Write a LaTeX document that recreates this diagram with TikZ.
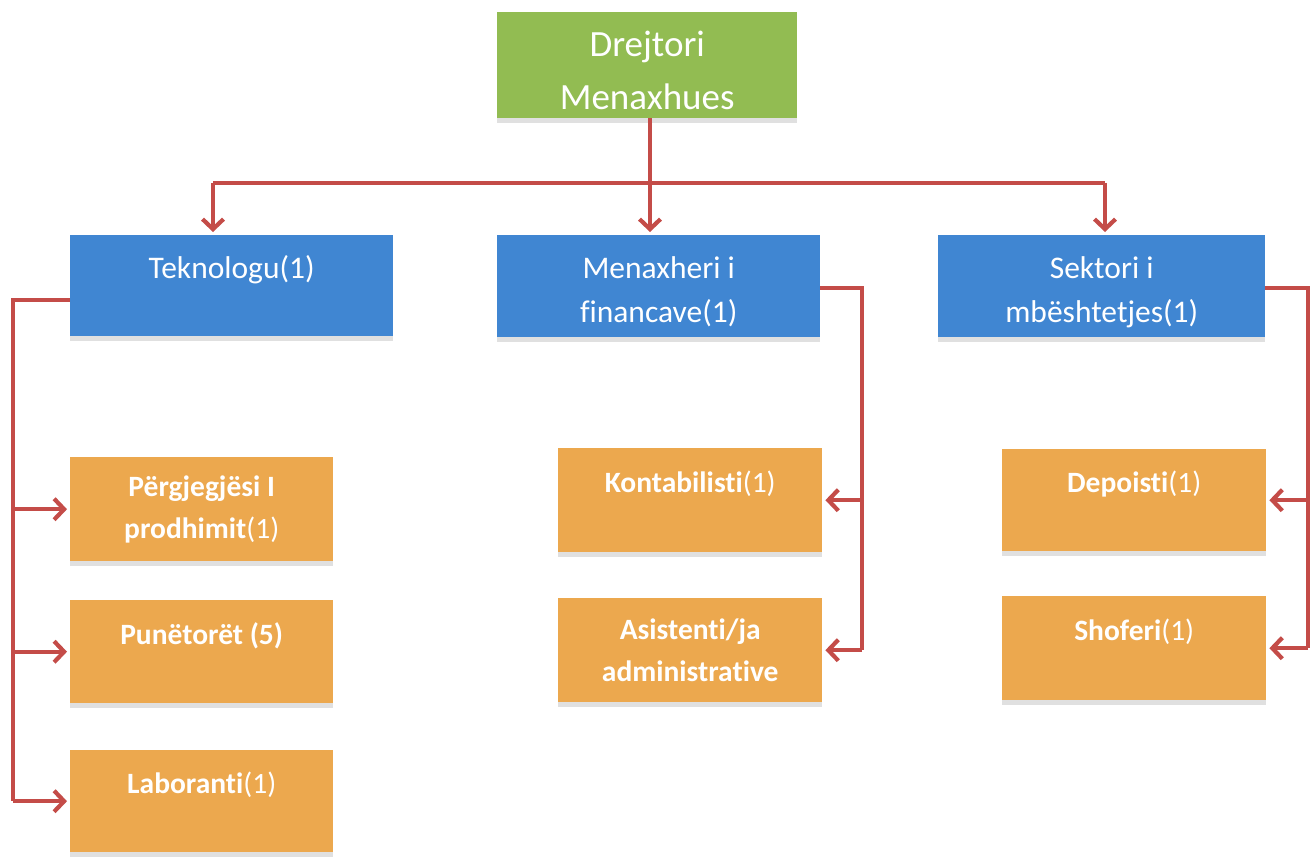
\documentclass[tikz,border=0pt]{standalone}
\usepackage{fontspec}
\setmainfont[Ligatures=NoCommon]{Carlito}
\usetikzlibrary{shadows}
\usetikzlibrary{arrows.meta}
\definecolor{topgreen}{RGB}{146,188,82}
\definecolor{midblue}{RGB}{64,134,210}
\definecolor{lowgold}{RGB}{236,168,78}
\definecolor{linkred}{RGB}{196,76,72}

\begin{document}
\begin{tikzpicture}[x=1pt, y=-1pt,
    box/.style={rectangle, anchor=north west, inner sep=0pt, align=center, text=white,
        general shadow={shadow yshift=-5pt, xscale=1.03, fill=black!12}},
    headbox/.style={box, fill=topgreen, font=\fontsize{37}{53}\selectfont, text height=88pt},
    unitbox/.style={box, fill=midblue, font=\fontsize{31.5}{44}\selectfont},
    staffbox/.style={box, fill=lowgold, font=\fontsize{29.5}{42}\selectfont\bfseries},
    oneline/.style={text depth=37pt},
    twoline/.style={text height=77pt},
    link/.style={linkred, line width=4.2pt},
    feed/.style={link, -{Straight Barb[length=10pt,width=21pt]}, shorten >=3pt}]
    \useasboundingbox (0,0) rectangle (1313,861);

    % Director
    \node[headbox, minimum width=300pt, minimum height=106pt] (dir) at (497,12) {Drejtori\\Menaxhues};

    % Departments
    \node[unitbox, oneline, minimum width=323pt, minimum height=101pt] (tek) at (70,235) {Teknologu(1)};
    \node[unitbox, twoline, minimum width=323pt, minimum height=102pt] (fin) at (497,235) {Menaxheri i\\financave(1)};
    \node[unitbox, twoline, minimum width=327pt, minimum height=102pt] (sek) at (938,235) {Sektori i\\mbështetjes(1)};

    % Staff under Teknologu
    \node[staffbox, minimum width=263pt, minimum height=104pt] (prg) at (70,457) {Përgjegjësi I\\prodhimit{\mdseries(1)}};
    \node[staffbox, oneline, minimum width=263pt, minimum height=103pt] (pun) at (70,600) {Punëtorët (5)};
    \node[staffbox, oneline, minimum width=263pt, minimum height=102pt] (lab) at (70,750) {Laboranti{\mdseries(1)}};

    % Staff under finance
    \node[staffbox, oneline, minimum width=264pt, minimum height=104pt] (kon) at (558,448) {Kontabilisti{\mdseries(1)}};
    \node[staffbox, minimum width=264pt, minimum height=104pt] (ast) at (558,598) {Asistenti/ja\\administrative};

    % Staff under support
    \node[staffbox, oneline, minimum width=264pt, minimum height=102pt] (dep) at (1002,449) {Depoisti{\mdseries(1)}};
    \node[staffbox, oneline, minimum width=264pt, minimum height=104pt] (sho) at (1002,596) {Shoferi{\mdseries(1)}};

    % Top bus
    \coordinate (bus) at (650,183);
    \coordinate (busL) at (213,183);
    \coordinate (busR) at (1105,183);
    \draw[link] (dir.south -| bus) -- (bus);
    \draw[link] (busL) -- (busR);
    \draw[feed] (busL) -- (busL |- tek.north);
    \draw[feed] (bus) -- (bus |- fin.north);
    \draw[feed] (busR) -- (busR |- sek.north);

    % Left branch
    \coordinate (tekL) at (13,300);
    \draw[link] (tek.west |- tekL) -- (tekL) -- (tekL |- lab.west);
    \draw[feed] (tekL |- prg.west) -- (prg.west);
    \draw[feed] (tekL |- pun.west) -- (pun.west);
    \draw[feed] (tekL |- lab.west) -- (lab.west);

    % Middle branch
    \coordinate (finR) at (862,288);
    \draw[link] (fin.east |- finR) -- (finR) -- (finR |- ast.east);
    \draw[feed] (finR |- kon.east) -- (kon.east);
    \draw[feed] (finR |- ast.east) -- (ast.east);

    % Right branch
    \coordinate (sekR) at (1308,288);
    \draw[link] (sek.east |- sekR) -- (sekR) -- (sekR |- sho.east);
    \draw[feed] (sekR |- dep.east) -- (dep.east);
    \draw[feed] (sekR |- sho.east) -- (sho.east);
\end{tikzpicture}
\end{document}
